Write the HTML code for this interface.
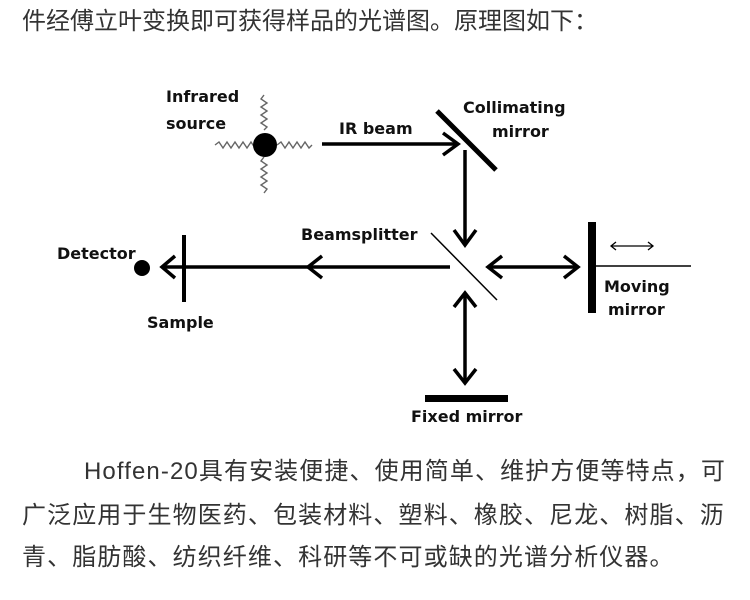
<!DOCTYPE html>
<html><head><meta charset="utf-8"><style>
body{margin:0;width:750px;height:600px;background:#fff;position:relative;overflow:hidden;font-family:"Liberation Sans","Noto Sans CJK SC",sans-serif;color:#333}
.t{position:absolute;left:22px;font-size:24px;white-space:nowrap;line-height:30px}
.b{letter-spacing:1.1px}
svg{position:absolute;left:0;top:0}
svg text{font-family:"DejaVu Sans","Liberation Sans",sans-serif;font-size:16px;fill:#111;font-weight:bold}
</style></head><body>
<div class="t" style="top:7px">件经傅立叶变换即可获得样品的光谱图。原理图如下：</div>
<svg width="750" height="600" viewBox="0 0 750 600">
<g fill="none" stroke="#666" stroke-width="1.4">
<path d="M215 145 l4 -3 l4 6 l4 -6 l4 6 l4 -6 l4 6 l4 -6 l4 6 l4 -6 l4 6 l3 -3"/>
<path d="M277 145 l4 -3 l4 6 l4 -6 l4 6 l4 -6 l4 6 l4 -6 l4 6 l3 -3"/>
<path d="M264 95 l-3 4 l6 4 l-6 4 l6 4 l-6 4 l6 4 l-6 4 l6 4 l-3 3"/>
<path d="M264 157 l-3 4 l6 4 l-6 4 l6 4 l-6 4 l6 4 l-6 4 l6 4 l-3 4"/>
</g>
<circle cx="265" cy="145" r="12" fill="#000"/>
<g stroke="#000" stroke-width="3.5" fill="none">
<line x1="322" y1="144" x2="458" y2="144"/>
<path d="M443 133 L458 144 L443 155"/>
<line x1="465" y1="150" x2="465" y2="245"/>
<path d="M454 230 L465 245 L476 230"/>
<line x1="450" y1="267" x2="162" y2="267"/>
<path d="M322 256 L308 267 L322 278"/>
<path d="M175 256 L162 267 L175 278"/>
<line x1="488" y1="267" x2="578" y2="267"/>
<path d="M502 256 L488 267 L502 278"/>
<path d="M564 256 L578 267 L564 278"/>
<line x1="465" y1="293" x2="465" y2="383"/>
<path d="M454 307 L465 293 L476 307"/>
<path d="M454 369 L465 383 L476 369"/>
</g>
<line x1="437" y1="111" x2="496" y2="170" stroke="#000" stroke-width="5"/>
<line x1="431" y1="233" x2="497" y2="300" stroke="#000" stroke-width="1.5"/>
<line x1="184" y1="235" x2="184" y2="302" stroke="#000" stroke-width="4"/>
<circle cx="142" cy="268" r="8" fill="#000"/>
<rect x="588" y="222" width="8" height="91" fill="#000"/>
<line x1="596" y1="266" x2="691" y2="266" stroke="#000" stroke-width="1.5"/>
<g stroke="#000" stroke-width="1.3" fill="none">
<line x1="611" y1="246" x2="653" y2="246"/>
<path d="M616 242 L611 246 L616 250 M648 242 L653 246 L648 250"/>
</g>
<rect x="425" y="395" width="83" height="7" fill="#000"/>
<text x="166" y="102">Infrared</text>
<text x="166" y="129">source</text>
<text x="339" y="134">IR beam</text>
<text x="463" y="113">Collimating</text>
<text x="492" y="137">mirror</text>
<text x="301" y="240">Beamsplitter</text>
<text x="57" y="259">Detector</text>
<text x="147" y="328">Sample</text>
<text x="604" y="292">Moving</text>
<text x="608" y="315">mirror</text>
<text x="411" y="422">Fixed mirror</text>
</svg>
<div class="t b" style="top:457px;left:84px">Hoffen-20具有安装便捷、使用简单、维护方便等特点，可</div>
<div class="t b" style="top:501px">广泛应用于生物医药、包装材料、塑料、橡胶、尼龙、树脂、沥</div>
<div class="t b" style="top:543px">青、脂肪酸、纺织纤维、科研等不可或缺的光谱分析仪器。</div>
</body></html>
